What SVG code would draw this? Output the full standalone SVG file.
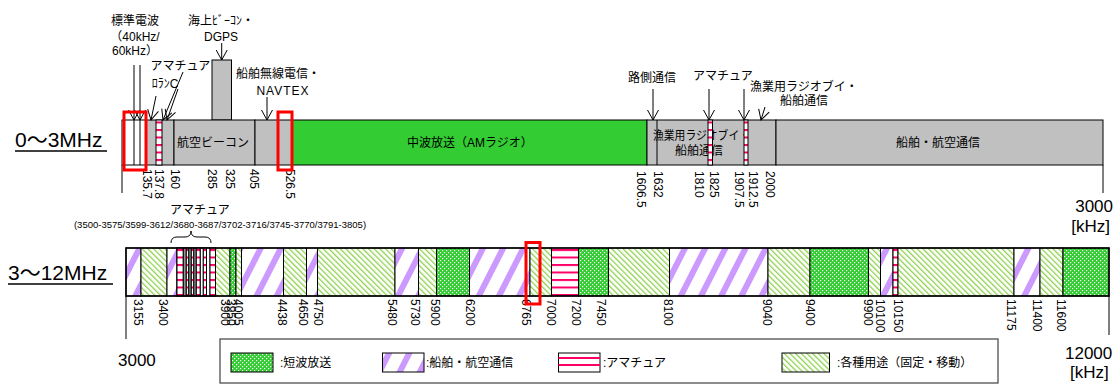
<svg xmlns="http://www.w3.org/2000/svg" width="1113" height="385" viewBox="0 0 1113 385">
<style>
.t{font-family:"Liberation Sans","Noto Sans CJK JP",sans-serif;font-size:12px;fill:#000}
.v{font-family:"Liberation Sans",sans-serif;font-size:12px;fill:#000}
.big{font-family:"Liberation Sans","Noto Sans CJK JP",sans-serif;font-size:21px;fill:#000}
.unit{font-family:"Liberation Sans",sans-serif;font-size:17px;fill:#000}
.small{font-family:"Liberation Sans",sans-serif;font-size:9.5px;fill:#000}
.seg{stroke:#000;stroke-width:1}
.gray{fill:#C0C0C0}
.am{fill:url(#pAM)}
.sw{fill:url(#pSW)}
.sh{fill:url(#pSH)}
.mi{fill:url(#pMI)}
.red{fill:none;stroke:#FF0000;stroke-width:3}
.arr{fill:none;stroke:#000;stroke-width:1;marker-end:url(#ah)}
.ln{stroke:#000;stroke-width:1;fill:none}
</style>
<defs>
<marker id="ah" markerUnits="userSpaceOnUse" markerWidth="14" markerHeight="12" refX="11" refY="6" orient="auto" viewBox="0 0 14 12">
<path d="M1,0.5 L11,6 L1,11.5" fill="none" stroke="#000" stroke-width="1"/>
</marker>
<pattern id="pAM" width="10" height="7.5" patternUnits="userSpaceOnUse" y="1.5">
<rect width="10" height="7.5" fill="#fff"/>
<rect y="0" width="10" height="2" fill="#FF0066"/>
</pattern>
<pattern id="pSW" width="4" height="4" patternUnits="userSpaceOnUse">
<rect width="4" height="4" fill="#33CC33"/>
<rect x="0" y="0" width="1.2" height="1.2" fill="#fff"/>
<rect x="2" y="2" width="1.2" height="1.2" fill="#fff"/>
</pattern>
<pattern id="pSH" width="18" height="18" patternUnits="userSpaceOnUse" patternTransform="rotate(27)">
<rect width="18" height="18" fill="#fff"/>
<rect width="6" height="18" fill="#CC99FF"/>
</pattern>
<pattern id="pMI" width="4" height="4" patternUnits="userSpaceOnUse" patternTransform="rotate(-45)">
<rect width="4" height="4" fill="#fff"/>
<rect width="1.3" height="4" fill="#8FD14F"/>
</pattern>
</defs>

<g id="title-0-3">
<text class="big" x="15" y="146.7">0〜3MHz</text>
<line x1="15" y1="151" x2="107" y2="151" stroke="#000" stroke-width="1.5"/>
</g>
<g id="title-3-12">
<text class="big" x="8" y="280">3〜12MHz</text>
<line x1="8" y1="284" x2="113" y2="284" stroke="#000" stroke-width="1.5"/>
</g>

<g id="band-0-3">
<rect x="212" y="60" width="19.5" height="60" class="gray seg"/>
<rect x="122" y="120" width="24" height="45" fill="#fff" class="seg"/>
<rect x="146" y="120" width="28" height="45" class="gray seg"/>
<rect x="174" y="120" width="81" height="45" class="gray seg"/>
<rect x="255" y="120" width="37" height="45" class="gray seg"/>
<rect x="292" y="120" width="355" height="45" fill="#33CC33" class="seg"/>
<rect x="647" y="120" width="129" height="45" class="gray seg"/>
<rect x="776" y="120" width="327" height="45" class="gray seg"/>
<line x1="134" y1="120" x2="134" y2="165" class="ln"/>
<line x1="140" y1="120" x2="140" y2="165" class="ln"/>
<line x1="657" y1="120" x2="657" y2="165" class="ln"/>
<text class="t" x="213" y="147" text-anchor="middle">航空ビーコン</text>
<text class="t" x="470" y="147" text-anchor="middle">中波放送（AMラジオ）</text>
<text class="t" x="653" y="140" textLength="97" lengthAdjust="spacingAndGlyphs">漁業用ラジオブイ・</text>
<text class="t" x="699" y="155" text-anchor="middle">船舶通信</text>
<text class="t" x="938" y="147" text-anchor="middle">船舶・航空通信</text>
<rect x="156" y="120" width="6" height="45" class="am seg"/>
<rect x="708" y="120" width="4.5" height="45" class="am seg"/>
<rect x="744" y="120" width="4" height="45" class="am seg"/>
<line x1="122" y1="165" x2="122" y2="193" class="ln"/>
<line x1="1103" y1="165" x2="1103" y2="193" class="ln"/>
</g>

<g id="ticks-0-3">
<text class="v" transform="translate(142.7,169) rotate(90)">135.7</text>
<text class="v" transform="translate(154.7,169) rotate(90)">137.8</text>
<text class="v" transform="translate(170.7,169) rotate(90)">160</text>
<text class="v" transform="translate(207.5,169) rotate(90)">285</text>
<text class="v" transform="translate(225.5,169) rotate(90)">325</text>
<text class="v" transform="translate(249.5,169) rotate(90)">405</text>
<text class="v" transform="translate(286,169) rotate(90)">526.5</text>
<text class="v" transform="translate(637,171) rotate(90)">1606.5</text>
<text class="v" transform="translate(654,171) rotate(90)">1632</text>
<text class="v" transform="translate(695,171) rotate(90)">1810</text>
<text class="v" transform="translate(710,171) rotate(90)">1825</text>
<text class="v" transform="translate(735,171) rotate(90)">1907.5</text>
<text class="v" transform="translate(749,171) rotate(90)">1912.5</text>
<text class="v" transform="translate(766,171) rotate(90)">2000</text>
<text class="unit" x="1113" y="212" text-anchor="end">3000</text>
<text class="unit" x="1110" y="232" text-anchor="end">[kHz]</text>
</g>

<g id="labels-0-3">
<text class="t" x="135" y="24.5" text-anchor="middle">標準電波</text>
<text class="t" x="135" y="41" text-anchor="middle">（40kHz/</text>
<text class="t" x="135" y="55" text-anchor="middle">60kHz）</text>
<text class="t" x="221" y="24.5" text-anchor="middle">海上ﾋﾞｰｺﾝ・</text>
<text class="t" x="221" y="40.5" text-anchor="middle">DGPS</text>
<text class="t" x="180.5" y="69.5" text-anchor="middle">アマチュア</text>
<text class="t" x="165" y="87.5" text-anchor="middle" font-size="11">ﾛﾗﾝC</text>
<text class="t" x="278" y="77.5" text-anchor="middle">船舶無線電信・</text>
<text class="t" x="283" y="94.5" text-anchor="middle" letter-spacing="1">NAVTEX</text>
<text class="t" x="652" y="81.5" text-anchor="middle">路側通信</text>
<text class="t" x="723" y="79.5" text-anchor="middle">アマチュア</text>
<text class="t" x="804" y="90.5" text-anchor="middle">漁業用ラジオブイ・</text>
<text class="t" x="804" y="105" text-anchor="middle">船舶通信</text>
</g>

<g id="connectors">
<line x1="134" y1="65" x2="134" y2="120" class="arr"/>
<line x1="140" y1="65" x2="140" y2="120" class="arr"/>
<line x1="221.7" y1="43" x2="221.7" y2="60" class="arr"/>
<line x1="183" y1="72" x2="163" y2="120" class="arr"/>
<line x1="156" y1="96" x2="151" y2="120" class="arr"/>
<line x1="178" y1="89" x2="167" y2="120" class="arr"/>
<line x1="267" y1="97" x2="267" y2="120" class="arr"/>
<line x1="653" y1="89" x2="653" y2="120" class="arr"/>
<line x1="709" y1="89" x2="709" y2="120" class="arr"/>
<line x1="744" y1="89" x2="744" y2="120" class="arr"/>
<line x1="765" y1="107" x2="761" y2="120" class="arr"/>
<path d="M171,243 Q171,237 177,237 L185,237 Q191,237 191,231 Q191,237 197,237 L205,237 Q211,237 211,243" class="ln"/>
</g>

<g id="amateur-note">
<text class="t" x="200" y="214" text-anchor="middle">アマチュア</text>
<text class="small" x="220" y="228" text-anchor="middle">(3500-3575/3599-3612/3680-3687/3702-3716/3745-3770/3791-3805)</text>
</g>

<g id="band-3-12">
<rect x="126" y="248" width="15" height="48" class="sh seg"/>
<rect x="141" y="248" width="26" height="48" class="mi seg"/>
<rect x="167" y="248" width="10" height="48" class="sh seg"/>
<rect x="177" y="248" width="38.5" height="48" class="sh seg"/>
<rect x="177" y="248" width="6.3" height="48" class="am seg"/>
<rect x="183.3" y="248" width="3" height="48" fill="#909090" class="seg"/>
<rect x="186.3" y="248" width="2.5" height="48" class="am seg"/>
<rect x="188.8" y="248" width="2.5" height="48" fill="#909090" class="seg"/>
<rect x="191.3" y="248" width="2.5" height="48" class="am seg"/>
<rect x="193.8" y="248" width="2.5" height="48" fill="#909090" class="seg"/>
<rect x="196.3" y="248" width="4" height="48" class="am seg"/>
<rect x="200.3" y="248" width="3" height="48" fill="#fff" class="seg"/>
<rect x="203.3" y="248" width="3.2" height="48" class="am seg"/>
<rect x="206.5" y="248" width="3.5" height="48" fill="#fff" class="seg"/>
<rect x="210" y="248" width="5.5" height="48" class="am seg"/>
<rect x="215.5" y="248" width="14.5" height="48" class="mi seg"/>
<rect x="230" y="248" width="6" height="48" class="sw seg"/>
<rect x="236" y="248" width="5.5" height="48" class="mi seg"/>
<rect x="241.5" y="248" width="42" height="48" class="sh seg"/>
<rect x="283.5" y="248" width="23" height="48" class="mi seg"/>
<rect x="306.5" y="248" width="11" height="48" class="sh seg"/>
<rect x="317.5" y="248" width="77.5" height="48" class="mi seg"/>
<rect x="395" y="248" width="23.5" height="48" class="sh seg"/>
<rect x="418.5" y="248" width="18" height="48" class="mi seg"/>
<rect x="436.5" y="248" width="33" height="48" class="sw seg"/>
<rect x="469.5" y="248" width="60.5" height="48" class="sh seg"/>
<rect x="530" y="248" width="21.5" height="48" class="mi seg"/>
<rect x="551.5" y="248" width="27" height="48" class="am seg"/>
<rect x="578.5" y="248" width="30" height="48" class="sw seg"/>
<rect x="608.5" y="248" width="61" height="48" class="mi seg"/>
<rect x="669.5" y="248" width="98.5" height="48" class="sh seg"/>
<rect x="768" y="248" width="42" height="48" class="mi seg"/>
<rect x="810" y="248" width="58.5" height="48" class="sw seg"/>
<rect x="868.5" y="248" width="12" height="48" class="mi seg"/>
<rect x="880.5" y="248" width="12.5" height="48" class="sh seg"/>
<rect x="893" y="248" width="5" height="48" class="am seg"/>
<rect x="898" y="248" width="116" height="48" class="mi seg"/>
<rect x="1014" y="248" width="26" height="48" class="sh seg"/>
<rect x="1040" y="248" width="23" height="48" class="mi seg"/>
<rect x="1063" y="248" width="46" height="48" class="sw seg"/>
<rect x="126" y="248" width="983" height="48" fill="none" stroke="#000" stroke-width="1.5"/>
<line x1="126" y1="296" x2="126" y2="339" class="ln"/>
<line x1="1109" y1="296" x2="1109" y2="335" class="ln"/>
</g>

<g id="ticks-3-12">
<text class="v" transform="translate(133.7,299) rotate(90)">3155</text>
<text class="v" transform="translate(159.2,299) rotate(90)">3400</text>
<text class="v" transform="translate(220.7,299) rotate(90)">3900</text>
<text class="v" transform="translate(226.7,299) rotate(90)">3950</text>
<text class="v" transform="translate(233.7,299) rotate(90)">4005</text>
<text class="v" transform="translate(277.7,299) rotate(90)">4438</text>
<text class="v" transform="translate(298.7,299) rotate(90)">4650</text>
<text class="v" transform="translate(313.7,299) rotate(90)">4750</text>
<text class="v" transform="translate(387.7,299) rotate(90)">5480</text>
<text class="v" transform="translate(410.7,299) rotate(90)">5730</text>
<text class="v" transform="translate(430.7,299) rotate(90)">5900</text>
<text class="v" transform="translate(465.7,299) rotate(90)">6200</text>
<text class="v" transform="translate(521.7,299) rotate(90)">6765</text>
<text class="v" transform="translate(547.2,299) rotate(90)">7000</text>
<text class="v" transform="translate(572.2,299) rotate(90)">7200</text>
<text class="v" transform="translate(597.2,299) rotate(90)">7450</text>
<text class="v" transform="translate(663.7,299) rotate(90)">8100</text>
<text class="v" transform="translate(762.7,299) rotate(90)">9040</text>
<text class="v" transform="translate(805.7,299) rotate(90)">9400</text>
<text class="v" transform="translate(864.2,299) rotate(90)">9900</text>
<text class="v" transform="translate(875.7,299) rotate(90)">10100</text>
<text class="v" transform="translate(893.7,299) rotate(90)">10150</text>
<text class="v" transform="translate(1007.2,299) rotate(90)">11175</text>
<text class="v" transform="translate(1033.2,299) rotate(90)">11400</text>
<text class="v" transform="translate(1057.2,299) rotate(90)">11600</text>
<text class="unit" x="118" y="365.5">3000</text>
<text class="unit" x="1065" y="359">12000</text>
<text class="unit" x="1070" y="378">[kHz]</text>
</g>

<g id="highlights">
<rect x="124" y="112" width="22" height="58" class="red"/>
<rect x="278" y="112" width="14" height="58" class="red"/>
<rect x="526" y="242.5" width="14" height="61.5" class="red"/>
</g>

<g id="legend">
<rect x="220" y="339" width="778" height="44" fill="#fff" stroke="#404040" stroke-width="1.2"/>
<rect x="231" y="353" width="42" height="19" class="sw seg"/>
<text class="t" x="280" y="366.5">:短波放送</text>
<rect x="382.5" y="353" width="41.5" height="19" class="sh seg"/>
<text class="t" x="426" y="366.5">:船舶・航空通信</text>
<rect x="558.5" y="353" width="41.5" height="19" fill="#fff" class="seg"/>
<line x1="558.5" y1="358" x2="600" y2="358" stroke="#FF0066" stroke-width="1.8"/>
<line x1="558.5" y1="365" x2="600" y2="365" stroke="#FF0066" stroke-width="1.8"/>
<text class="t" x="603" y="366.5">:アマチュア</text>
<rect x="782" y="353" width="47.5" height="19" class="mi seg"/>
<text class="t" x="837" y="366.5">:各種用途（固定・移動）</text>
</g>
</svg>
